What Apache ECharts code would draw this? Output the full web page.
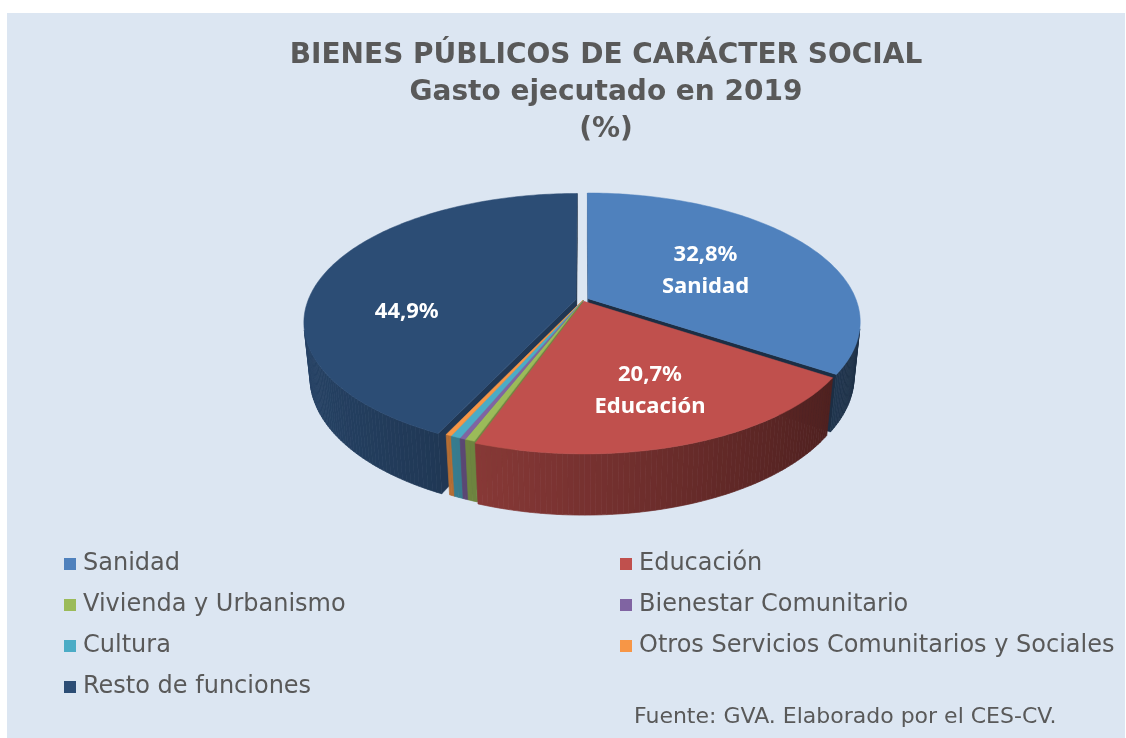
<!DOCTYPE html>
<html><head><meta charset="utf-8">
<script src="https://cdn.jsdelivr.net/npm/echarts@6/dist/echarts.min.js"></script>
<style>
html,body{margin:0;padding:0;background:#ffffff;}
#bg{position:absolute;left:7px;top:13px;width:1118px;height:725px;background:#DCE6F2;}
#chart{position:absolute;left:0;top:0;width:1126px;height:738px;}
</style></head><body>
<div id="bg"></div><div id="chart"></div>
<script>
// ---- data ----
const categories = ['Sanidad', 'Educación', 'Vivienda y Urbanismo', 'Bienestar Comunitario', 'Cultura', 'Otros Servicios Comunitarios y Sociales', 'Resto de funciones'];
const values = [32.8, 20.7, 0.5, 0.3, 0.5, 0.3, 44.9];
const titleLines = ['BIENES PÚBLICOS DE CARÁCTER SOCIAL', 'Gasto ejecutado en 2019', '(%)'];
const sourceText = 'Fuente: GVA. Elaborado por el CES-CV.';
const legendLeftCol = ['Sanidad', 'Vivienda y Urbanismo', 'Cultura', 'Resto de funciones'];
const legendRightCol = ['Educación', 'Bienestar Comunitario', 'Otros Servicios Comunitarios y Sociales'];

// ---- style ----
const colors = ['#4F81BD', '#C0504D', '#9BBB59', '#8064A2', '#4BACC6', '#F79646', '#2C4D75'];
const explode = [6, 3, 0, 0, 0, 0, 7];
const showLabel = [true, true, false, false, false, false, true];
const showName = [true, true, false, false, false, false, false];
const labelOffset = [[-24, 9], [7, 4], [0, 0], [0, 0], [0, 0], [0, 0], [-6, 29]];
const CX = 583, CY = 300, R = 268, H = 62, D = 1332;
const SINA = 0.466, COSA = Math.sqrt(1 - SINA * SINA);
const WARP = 7.2 * Math.PI / 180;   // view warp of the 3D projection
const FONT = '"DejaVu Sans", sans-serif';

const total = values.reduce((a, b) => a + b, 0);
const starts = [];
values.reduce((acc, v, i) => { starts[i] = acc; return acc + v; }, 0);

function warp(th) { return th + WARP * (1 - Math.cos(th)) / 2; }
function proj(x, y, z) {
  const ys = y * COSA - z * SINA;
  const d = z * COSA + y * SINA;
  const s = D / (D - d);
  return [CX + x * s, CY - ys * s];
}
function shade(hex, f) {
  const n = parseInt(hex.slice(1), 16);
  const r = Math.round(((n >> 16) & 255) * f), g = Math.round(((n >> 8) & 255) * f), b = Math.round((n & 255) * f);
  return 'rgb(' + r + ',' + g + ',' + b + ')';
}

function renderItem(params, api) {
  const i = params.dataIndex;
  const v = api.value(0);
  const t0 = starts[i] / total * 2 * Math.PI;
  const t1 = t0 + v / total * 2 * Math.PI;
  const a0 = warp(t0), a1 = warp(t1), am = warp((t0 + t1) / 2);
  const ex = explode[i] * Math.sin(am), ez = -explode[i] * Math.cos(am);
  const P3 = (th, r, y) => [ex + r * Math.sin(th), y, ez - r * Math.cos(th)];
  const pt = (th, r, y) => { const p = P3(th, r, y); return proj(p[0], p[1], p[2]); };
  const depth = (p) => p[2] * COSA + p[1] * SINA;
  const camZ = D * COSA;
  const col = colors[i];
  const children = [];
  const nSteps = Math.max(2, Math.ceil((a1 - a0) / (Math.PI / 180)));
  // outer curved wall
  for (let k = 0; k < nSteps; k++) {
    const ta = a0 + (a1 - a0) * k / nSteps, tb = a0 + (a1 - a0) * (k + 1) / nSteps, tm = (ta + tb) / 2;
    const pm = P3(tm, R, -H / 2);
    const dot = Math.sin(tm) * (0 - pm[0]) + (-Math.cos(tm)) * (camZ - pm[2]);
    if (dot <= 0) continue;
    const f = Math.min(1, Math.max(0.3, 0.62 - 0.25 * Math.sin(tm)));
    children.push({
      type: 'polygon', z2: 1000 + depth(pm),
      shape: { points: [pt(ta, R, 0), pt(tb, R, 0), pt(tb, R, -H), pt(ta, R, -H)] },
      style: { fill: shade(col, f), stroke: shade(col, f), lineWidth: 0.7 }
    });
  }
  // radial walls
  [[a0, -1, 0.72], [a1, 1, 0.36]].forEach(([t, sg, f]) => {
    const nx = sg * Math.cos(t), nz = sg * Math.sin(t);
    const pm = P3(t, R / 2, -H / 2);
    const dot = nx * (0 - pm[0]) + nz * (camZ - pm[2]);
    if (dot <= 0) return;
    children.push({
      type: 'polygon', z2: 1000 + depth(pm),
      shape: { points: [pt(t, 0, 0), pt(t, R, 0), pt(t, R, -H), pt(t, 0, -H)] },
      style: { fill: shade(col, f), stroke: shade(col, f), lineWidth: 0.5 }
    });
  });
  // top face
  const top = [pt(a0, 0, 0)];
  for (let k = 0; k <= nSteps; k++) top.push(pt(a0 + (a1 - a0) * k / nSteps, R, 0));
  children.push({ type: 'polygon', z2: 5000, shape: { points: top }, style: { fill: col, stroke: col, lineWidth: 0.5 } });
  // label
  if (showLabel[i]) {
    const lp = pt(am, R * 0.64, 0);
    const txt = v.toFixed(1).replace('.', ',') + '%' + (showName[i] ? '\n' + categories[i] : '');
    children.push({
      type: 'text', z2: 6000, x: lp[0] + labelOffset[i][0], y: lp[1] + labelOffset[i][1],
      style: { text: txt, fill: '#ffffff', font: 'bold 22px "Noto Sans"', align: 'center', verticalAlign: 'middle', lineHeight: 32 }
    });
  }
  return { type: 'group', children };
}

const legendText = { fontFamily: FONT, fontSize: 24, color: '#595959', lineHeight: 24, padding: [0, 0, 0, 2] };
const chart = echarts.init(document.getElementById('chart'));
chart.setOption({
  animation: false,
  backgroundColor: 'transparent',
  graphic: [
    { type: 'text', x: 606, y: 37, style: { text: titleLines.join('\n'), font: 'bold 28px ' + FONT, fill: '#595959', align: 'center', verticalAlign: 'top', lineHeight: 37 } },
    { type: 'text', x: 634, y: 717, style: { text: sourceText, font: '22px ' + FONT, fill: '#595959', align: 'left', verticalAlign: 'middle' } }
  ],
  legend: [
    { data: legendLeftCol, orient: 'vertical', left: 59, top: 547, icon: 'rect', itemWidth: 12, itemHeight: 12, itemGap: 17, textStyle: legendText, selectedMode: false },
    { data: legendRightCol, orient: 'vertical', left: 615, top: 547, icon: 'rect', itemWidth: 12, itemHeight: 12, itemGap: 17, textStyle: legendText, selectedMode: false }
  ],
  series: [
    {
      type: 'pie', radius: [0, 0], center: [-50, -50], silent: true,
      label: { show: false }, labelLine: { show: false },
      data: categories.map((c, i) => ({ name: c, value: values[i], itemStyle: { color: colors[i] } }))
    },
    {
      type: 'custom', coordinateSystem: 'none', silent: true,
      renderItem: renderItem,
      data: categories.map((c, i) => ({ name: c, value: values[i] }))
    }
  ]
});
</script>
</body></html>
